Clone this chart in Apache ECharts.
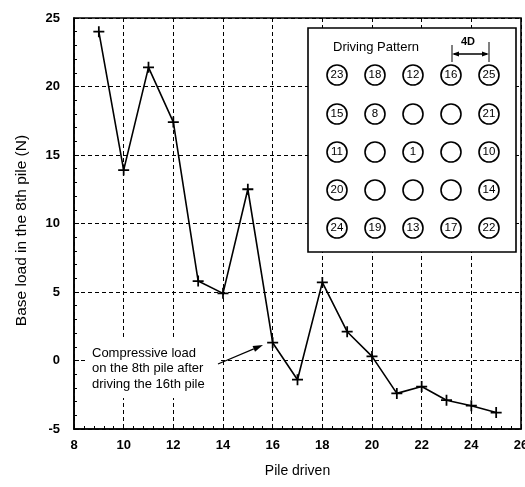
<!DOCTYPE html>
<html>
<head>
<meta charset="utf-8">
<script src="https://cdn.jsdelivr.net/npm/echarts@6/dist/echarts.min.js"></script>
<style>
  html, body { margin: 0; padding: 0; background: #fff; }
  #chart { width: 525px; height: 487px; }
</style>
</head>
<body>
<div id="chart"></div>
<script>
// Pile number driven and the resulting base load on pile no. 8
const pileDriven = [9, 10, 11, 12, 13, 14, 15, 16, 17, 18, 19, 20, 21, 22, 23, 24, 25];
const baseLoad   = [24.0, 13.9, 21.4, 17.4, 5.8, 4.9, 12.5, 1.3, -1.4, 5.7, 2.1, 0.3, -2.4, -1.9, -2.9, -3.3, -3.8];

// Axis tick values
const xTickValues = [8, 10, 12, 14, 16, 18, 20, 22, 24, 26];
const yTickValues = [-5, 0, 5, 10, 15, 20, 25];

// Driving order of the 5 x 5 pile group ('' = not numbered)
const patternRows = [
  ['23', '18', '12', '16', '25'],
  ['15', '8',  '',   '',   '21'],
  ['11', '',   '1',  '',   '10'],
  ['20', '',   '',   '',   '14'],
  ['24', '19', '13', '17', '22']
];

const noteLines = ['Compressive load', 'on the 8th pile after', 'driving the 16th pile'];

const FONT = 'Liberation Sans, Arial, sans-serif';
const chart = echarts.init(document.getElementById('chart'), null, { renderer: 'canvas' });

const dataPoints = pileDriven.map((x, i) => [x, baseLoad[i]]);

// plus-shaped marker
const plusPath = 'path://M4.2,0H5.8V4.2H10V5.8H5.8V10H4.2V5.8H0V4.2H4.2Z';

function buildGraphics() {
  const g = [];
  // inset: driving pattern
  const box = { x: 308, y: 28, w: 208, h: 224 };
  g.push({
    type: 'rect', z: 50,
    shape: { x: box.x, y: box.y, width: box.w, height: box.h },
    style: { fill: '#fff', stroke: '#000', lineWidth: 1.6 }
  });
  g.push({
    type: 'text', z: 51, x: 333, y: 47,
    style: { text: 'Driving Pattern', font: '13px ' + FONT, fill: '#000', textVerticalAlign: 'middle', verticalAlign: 'middle' }
  });
  // 4D spacing dimension
  g.push({ type: 'line', z: 51, shape: { x1: 452, y1: 45, x2: 452, y2: 62 }, style: { stroke: '#000', lineWidth: 1 } });
  g.push({ type: 'line', z: 51, shape: { x1: 489, y1: 42, x2: 489, y2: 62 }, style: { stroke: '#000', lineWidth: 1 } });
  g.push({ type: 'line', z: 51, shape: { x1: 454, y1: 54, x2: 487, y2: 54 }, style: { stroke: '#000', lineWidth: 1.4 } });
  g.push({ type: 'polygon', z: 51, shape: { points: [[452, 54], [459, 51.5], [459, 56.5]] }, style: { fill: '#000' } });
  g.push({ type: 'polygon', z: 51, shape: { points: [[489, 54], [482, 51.5], [482, 56.5]] }, style: { fill: '#000' } });
  g.push({
    type: 'text', z: 51, x: 468, y: 42,
    style: { text: '4D', font: 'bold 11px ' + FONT, fill: '#000', align: 'center', textAlign: 'center', verticalAlign: 'middle', textVerticalAlign: 'middle' }
  });
  const colX = [337, 375, 413, 451, 489];
  const rowY = [75, 114, 152, 190, 228];
  patternRows.forEach((row, r) => {
    row.forEach((label, c) => {
      g.push({
        type: 'circle', z: 51,
        shape: { cx: colX[c], cy: rowY[r], r: 10 },
        style: { fill: '#fff', stroke: '#000', lineWidth: 1.6 }
      });
      if (label) {
        g.push({
          type: 'text', z: 52, x: colX[c], y: rowY[r],
          style: { text: label, font: '11.5px ' + FONT, fill: '#000', align: 'center', textAlign: 'center', verticalAlign: 'middle', textVerticalAlign: 'middle' }
        });
      }
    });
  });
  // annotation: white backing so the grid does not run through the text
  g.push({
    type: 'rect', z: 39,
    shape: { x: 86, y: 340, width: 132, height: 58 },
    style: { fill: '#fff' }
  });
  noteLines.forEach((t, i) => {
    g.push({
      type: 'text', z: 40, x: 92, y: 353 + i * 15.5,
      style: { text: t, font: '13px ' + FONT, fill: '#000', verticalAlign: 'middle', textVerticalAlign: 'middle' }
    });
  });
  // annotation arrow
  const a = [218, 364], b = [263, 345];
  const dx = b[0] - a[0], dy = b[1] - a[1];
  const len = Math.hypot(dx, dy), ux = dx / len, uy = dy / len;
  const hl = 10, hw = 3.2;
  const bx = b[0] - ux * hl, by = b[1] - uy * hl;
  g.push({ type: 'line', z: 40, shape: { x1: a[0], y1: a[1], x2: bx, y2: by }, style: { stroke: '#000', lineWidth: 1.2 } });
  g.push({
    type: 'polygon', z: 40,
    shape: { points: [b, [bx - uy * hw, by + ux * hw], [bx + uy * hw, by - ux * hw]] },
    style: { fill: '#000' }
  });
  return g;
}

const gridLine = { show: true, lineStyle: { color: '#000', type: [4, 3], width: 1 } };

chart.setOption({
  animation: false,
  backgroundColor: '#fff',
  grid: {
    left: 74, right: 4, top: 18, bottom: 58,
    containLabel: false, outerBoundsMode: 'none',
    show: true, borderColor: '#000', borderWidth: 1.6, backgroundColor: 'transparent'
  },
  xAxis: {
    type: 'value',
    min: xTickValues[0], max: xTickValues[xTickValues.length - 1], interval: 2,
    name: 'Pile driven', nameLocation: 'middle', nameGap: 35,
    nameTextStyle: { fontFamily: FONT, fontSize: 14, color: '#000' },
    axisLine: { onZero: false, lineStyle: { color: '#000', width: 1.6 } },
    axisTick: { show: true, inside: true, length: 5, lineStyle: { color: '#000' } },
    minorTick: { show: true, splitNumber: 5, length: 3, lineStyle: { color: '#000' } },
    axisLabel: { fontFamily: FONT, fontSize: 13, fontWeight: 'bold', color: '#000', margin: 10 },
    splitLine: gridLine
  },
  yAxis: {
    type: 'value',
    min: yTickValues[0], max: yTickValues[yTickValues.length - 1], interval: 5,
    name: 'Base load in the 8th pile (N)', nameLocation: 'middle', nameGap: 44, nameRotate: 90,
    nameTextStyle: { fontFamily: FONT, fontSize: 15.5, color: '#000', padding: [0, 14, 0, 0] },
    axisLine: { onZero: false, lineStyle: { color: '#000', width: 1.6 } },
    axisTick: { show: true, inside: true, length: 5, lineStyle: { color: '#000' } },
    minorTick: { show: true, splitNumber: 5, length: 3, lineStyle: { color: '#000' } },
    axisLabel: { fontFamily: FONT, fontSize: 13, fontWeight: 'bold', color: '#000', margin: 14 },
    splitLine: gridLine
  },
  series: [{
    type: 'line',
    data: dataPoints,
    z: 10,
    lineStyle: { color: '#000', width: 1.6 },
    symbol: plusPath,
    symbolSize: 11,
    showAllSymbol: true,
    itemStyle: { color: '#000' }
  }],
  graphic: buildGraphics()
});
</script>
</body>
</html>
